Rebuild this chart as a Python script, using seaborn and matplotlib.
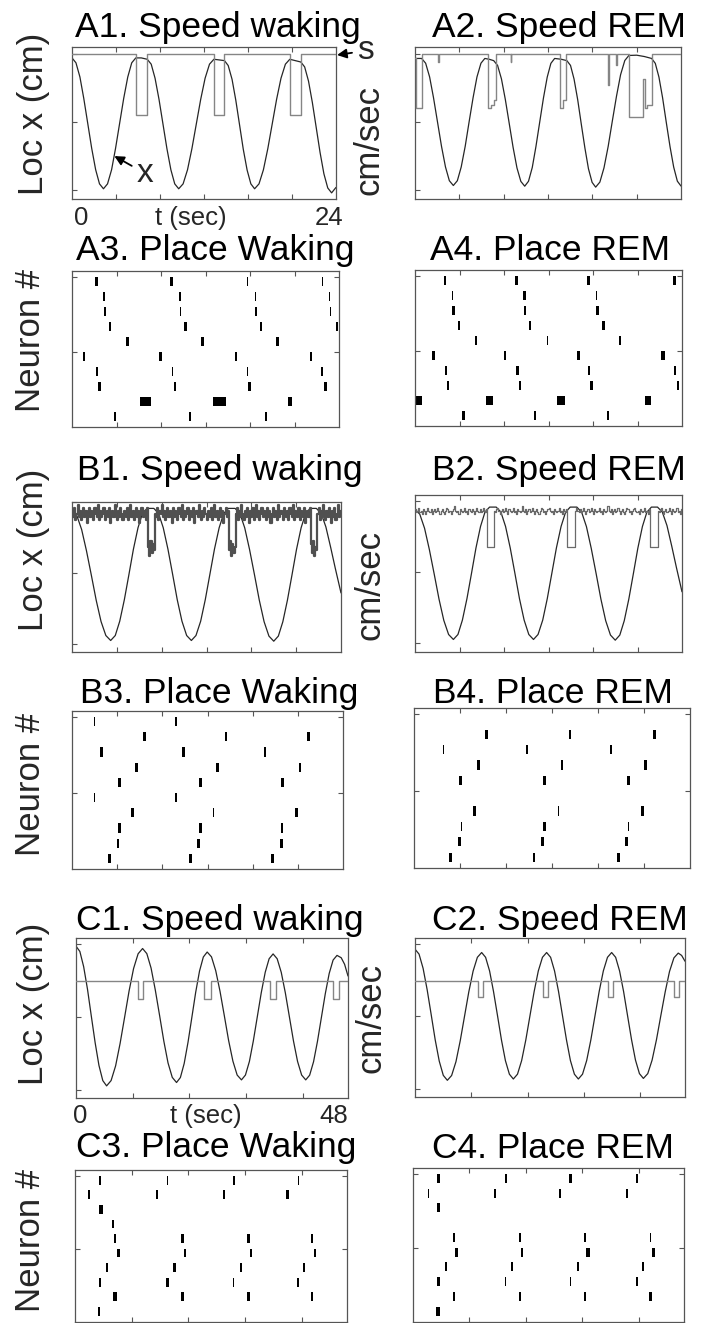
import numpy as np
import matplotlib
matplotlib.use("Agg")
import matplotlib.pyplot as plt
import seaborn as sns

# ======================= DATA =======================
# ---- A: 24 s, position x (cm) and speed s (cm/sec) ----
a1_t = [0, 0.36, 0.72, 1.07, 1.43, 1.79, 2.15, 2.50, 2.86,
        3.23, 3.60, 3.96, 4.33, 4.70, 5.07, 5.43, 5.80,
        6.30, 6.84,
        7.20, 7.55, 7.91, 8.27, 8.63, 8.99, 9.34, 9.70,
        10.1, 10.5, 10.9, 11.3, 11.7, 12.1, 12.5, 12.9,
        13.4, 13.86,
        14.20, 14.55, 14.89, 15.23, 15.57, 15.92, 16.26, 16.6,
        17.0, 17.4, 17.8, 18.2, 18.6, 19.0, 19.4, 19.8,
        20.3, 20.8,
        21.15, 21.5, 21.85, 22.2, 22.55, 22.9, 23.25, 23.6, 24.0]
a1_x = [97, 93.4, 83.0, 67.3, 49.0, 30.7, 15.0, 4.6, 1.0,
        4.6, 15.0, 30.7, 49.0, 67.3, 83.0, 93.4, 97.0,
        97.0, 96.0,
        92.4, 82.1, 66.6, 48.5, 30.4, 14.9, 4.6, 1.0,
        4.6, 14.9, 30.4, 48.5, 66.6, 82.1, 92.4, 96.0,
        95.5, 95.0,
        91.4, 81.3, 66.0, 48.0, 30.0, 14.7, 4.6, 1.0,
        4.6, 14.9, 30.4, 48.5, 66.6, 82.1, 92.4, 96.0,
        95.0, 94.0,
        90.4, 80.0, 64.3, 46.0, 27.7, 12.0, 1.6, -2.0, 2.0]
a1_speed_t = [0, 5.78, 5.78, 6.84, 6.84, 12.9, 12.9, 13.86, 13.86, 19.8, 19.8, 20.8, 20.8, 24]
a1_speed = [47.8, 47.8, 27.6, 27.6, 47.8, 47.8, 27.6, 27.6, 47.8, 47.8, 27.6, 27.6, 47.8, 47.8]

a2_t = [0, 0.6,
        0.96, 1.32, 1.67, 2.03, 2.39, 2.75, 3.10, 3.46,
        3.82, 4.17, 4.53, 4.88, 5.24, 5.59, 5.95, 6.30,
        6.70, 7.10,
        7.45, 7.80, 8.15, 8.50, 8.85, 9.20, 9.55, 9.90,
        10.24, 10.58, 10.91, 11.25, 11.59, 11.93, 12.26, 12.60,
        13.2, 13.7,
        14.03, 14.35, 14.68, 15.0, 15.33, 15.65, 15.98, 16.3,
        16.68, 17.05, 17.43, 17.8, 18.18, 18.55, 18.93, 19.3,
        20.0, 20.7, 21.35,
        21.68, 22.01, 22.34, 22.67, 23.01, 23.34, 23.67, 24.0]
a2_x = [96.6, 96.6,
        93.1, 83.0, 67.8, 50.0, 32.2, 17.0, 6.9, 3.4,
        6.9, 17.0, 32.2, 50.0, 67.8, 83.0, 93.1, 96.6,
        96.0, 95.0,
        91.5, 81.6, 66.5, 49.0, 31.4, 16.3, 6.4, 2.9,
        6.5, 16.6, 31.9, 49.8, 67.6, 82.9, 93.0, 96.6,
        96.0, 95.0,
        91.5, 81.5, 66.3, 48.6, 30.9, 15.7, 5.7, 2.2,
        5.9, 16.3, 32.1, 50.5, 68.9, 84.7, 95.1, 98.8,
        99.0, 98.0, 96.6,
        93.0, 82.9, 67.7, 49.8, 31.9, 16.9, 6.6, 3.0]
a2_speed_t = [0, 0.08, 0.08, 0.6, 0.6, 2.08, 2.08, 2.14, 2.14, 6.6, 6.6, 6.9, 6.9, 7.1, 7.1,
              7.28, 7.28, 8.63, 8.63, 8.7, 8.7, 13.08, 13.08, 13.35, 13.35, 13.6, 13.6,
              17.42, 17.42, 17.47, 17.47, 18.18, 18.18, 18.24, 18.24, 19.3, 19.3, 20.55,
              20.55, 20.75, 20.75, 20.9, 20.9, 21.35, 21.35, 24]
a2_speed = [46.5, 46.5, 29.8, 29.8, 47.8, 47.8, 45, 45, 47.8, 47.8, 29.8, 29.8, 31, 31, 32.5,
            32.5, 47.8, 47.8, 45, 45, 47.8, 47.8, 29.8, 29.8, 32.5, 32.5, 47.8,
            47.8, 37.5, 37.5, 47.8, 47.8, 44, 44, 47.8, 47.8, 27, 27,
            39.5, 39.5, 29.8, 29.8, 31, 31, 47.8, 47.8]

# ---- B: 24 s, same trajectory in waking and REM ----
b_t = [0, 0.43, 0.86, 1.29, 1.73, 2.16, 2.59, 3.02, 3.45,
       3.86, 4.26, 4.67, 5.08, 5.48, 5.89, 6.29, 6.70,
       7.30,
       7.72, 8.14, 8.56, 8.98, 9.39, 9.81, 10.23, 10.65,
       11.06, 11.48, 11.89, 12.30, 12.71, 13.13, 13.54, 13.95,
       14.55,
       14.98, 15.41, 15.84, 16.28, 16.71, 17.14, 17.57, 18.0,
       18.41, 18.81, 19.22, 19.63, 20.03, 20.44, 20.84, 21.25,
       21.80,
       22.23, 22.65, 23.08, 23.50, 24.0]
b_x = [94, 90.5, 80.6, 65.7, 48.3, 30.8, 15.9, 6.0, 2.5,
       6.0, 16.1, 31.2, 49.0, 66.8, 81.9, 92.0, 95.5,
       95.5,
       92.0, 81.9, 66.8, 49.0, 31.2, 16.1, 6.0, 2.5,
       6.0, 16.1, 31.2, 49.0, 66.8, 81.9, 92.0, 95.5,
       95.5,
       91.9, 81.8, 66.6, 48.8, 30.9, 15.7, 5.6, 2.0,
       5.6, 15.7, 30.9, 48.8, 66.6, 81.8, 91.9, 95.5,
       95.5,
       92.0, 82.5, 68.0, 53.0, 36.0]
# speed sampled every 0.1 s
b1_speed = [
    47, 45, 48, 44, 46, 49, 45, 47, 44, 46, 48, 45, 47, 43, 46, 48, 45, 47, 46, 44,
    48, 46, 45, 49, 44, 47, 45, 46, 48, 44, 46, 47, 45, 48, 43, 46, 47, 45, 49, 46,
    44, 47, 45, 48, 46, 44, 47, 46, 45, 48, 44, 46, 49, 45, 47, 44, 46, 48, 45, 47,
    43, 46, 48, 45, 47, 46, 44, 48,
    35, 32, 37, 33, 36, 34,
    46, 45, 48, 44, 47, 46, 49, 45, 47, 44, 46, 48, 45, 47, 46, 43, 48, 45, 47, 46,
    44, 48, 46, 45, 49, 44, 47, 45, 46, 48, 44, 47, 46, 45, 48, 43, 46, 47, 45, 49,
    46, 44, 47, 45, 48, 46, 44, 47, 46, 45, 48, 44, 46, 49, 45, 47, 44, 46, 48, 45,
    47, 43, 46, 48, 45, 47,
    34, 37, 32, 36, 33, 35,
    46, 48, 44, 47, 45, 49, 46, 44, 47, 45, 48, 46, 43, 47, 45, 48, 44, 46, 49, 45,
    47, 44, 46, 48, 45, 47, 46, 44, 48, 45, 47, 43, 46, 48, 45, 47, 46, 44, 49, 45,
    47, 46, 44, 48, 46, 45, 47, 44, 48, 46, 45, 49, 44, 47, 46, 45, 48, 44, 47, 46,
    45, 48, 43, 46, 47, 45, 48,
    36, 33, 37, 32, 35, 34,
    46, 48, 44, 47, 45, 49, 46, 44, 47, 45, 48, 46, 43, 47, 45, 48, 44, 46, 49, 45, 47]
b2_speed = [
    45.5, 44.5, 45, 46, 44.5, 45, 44, 45.5, 45, 44, 45, 46, 45, 44.5, 45.5, 44, 45, 45.5, 44.5, 45,
    46, 45, 44, 45, 45.5, 44.5, 44, 45, 46, 45.5, 44.5, 45, 44, 45, 45.5, 46.5, 45, 44.5, 45, 44,
    45.5, 45, 44.5, 45, 46, 44.5, 45, 44, 45.5, 45, 44.5, 45.5, 45, 44, 45, 46, 45, 44.5, 45.5, 44.5,
    45, 46, 45, 44.5, 45.5,
    33.3, 33.3, 33.3, 33.3, 33.3, 33.3,
    45, 44.5, 45.5, 46, 45, 44, 45, 45.5, 44.5, 45, 46, 45, 44, 45.5, 45, 44.5, 45, 46, 44.5, 45,
    44, 45.5, 45, 44.5, 45, 46.5, 45, 44.5, 45.5, 44, 45, 45.5, 44.5, 45, 46, 45, 44, 45, 45.5, 44.5,
    44, 45, 46, 45.5, 44.5, 45, 44, 45, 45.5, 46, 45, 44.5, 45, 44, 45.5, 45, 44.5, 45, 46, 44.5,
    45, 44, 45.5, 45, 44.5, 45.5,
    33.3, 33.3, 33.3, 33.3, 33.3, 33.3, 33.3,
    45, 46, 45, 44.5, 45.5, 44.5, 45, 46, 45, 44, 45, 45.5, 44.5, 45, 46, 45, 44, 45.5, 45, 44.5,
    45, 46, 44.5, 45, 44, 45.5, 45, 44.5, 45, 46.5, 45, 44.5, 45.5, 44, 45, 45.5, 44.5, 45, 46, 45,
    44, 45, 45.5, 44.5, 44, 45, 46, 45.5, 44.5, 45, 44, 45, 45.5, 46, 45, 44.5, 45, 44, 45.5, 45,
    44.5, 45, 46, 44.5, 45, 44, 45.5,
    33.3, 33.3, 33.3, 33.3, 33.3, 33.3, 33.3,
    45, 44.5, 45.5, 46, 45, 44, 45, 45.5, 44.5, 45, 46, 45, 44, 45.5, 45, 44.5, 45, 46, 44.5, 45, 44, 45.5]

# ---- C: 48 s ----
c1_t = [0, 0.68, 1.35, 2.03, 2.70, 3.38, 4.05, 4.73, 5.40,
        6.19, 6.99, 7.78, 8.58, 9.37, 10.16, 10.96, 11.75,
        12.50, 13.25, 13.99, 14.75, 15.50, 16.24, 16.99, 17.74,
        18.42, 19.09, 19.77, 20.45, 21.12, 21.80, 22.47, 23.15,
        23.91, 24.66, 25.42, 26.18, 26.93, 27.69, 28.44, 29.20,
        29.90, 30.60, 31.29, 31.99, 32.69, 33.39, 34.08, 34.78,
        35.50, 36.22, 36.94, 37.66, 38.38, 39.10, 39.82, 40.54,
        41.23, 41.92, 42.61, 43.30, 43.99, 44.68, 45.37, 46.06,
        46.80, 47.40, 48.0]
c1_x = [98.4, 94.8, 84.4, 68.9, 50.6, 32.3, 16.8, 6.4, 2.8,
        6.4, 16.5, 31.8, 49.8, 67.8, 83.1, 93.2, 96.8,
        93.3, 83.4, 68.5, 51.0, 33.4, 18.5, 8.6, 5.1,
        8.5, 18.1, 32.7, 49.8, 66.8, 81.4, 91.0, 94.4,
        91.1, 81.6, 67.4, 50.7, 33.9, 19.7, 10.2, 6.9,
        10.2, 19.5, 33.5, 50.0, 66.5, 80.5, 89.8, 93.1,
        89.8, 80.5, 66.5, 50.0, 33.5, 19.5, 10.2, 6.9,
        10.1, 19.3, 33.2, 49.5, 65.8, 79.7, 88.9, 92.1,
        90.5, 86.0, 78.0]
c1_speed_t = [0, 10.99, 10.99, 11.87, 11.87, 22.62, 22.62, 23.74, 23.74, 34.2, 34.2,
              35.25, 35.25, 45.36, 45.36, 46.36, 46.36, 48]
c1_speed = [36.5, 36.5, 31, 31, 36.5, 36.5, 31, 31, 36.5, 36.5, 31, 31, 36.5, 36.5, 31, 31, 36.5, 36.5]

c2_t = [0, 0.72, 1.44, 2.16, 2.88, 3.59, 4.31, 5.03, 5.75,
        6.51, 7.28, 8.04, 8.80, 9.56, 10.33, 11.09, 11.85,
        12.55, 13.26, 13.96, 14.67, 15.37, 16.07, 16.78, 17.48,
        18.22, 18.96, 19.70, 20.44, 21.18, 21.92, 22.66, 23.40,
        24.11, 24.81, 25.52, 26.22, 26.93, 27.63, 28.34, 29.04,
        29.78, 30.52, 31.26, 32.00, 32.74, 33.48, 34.22, 34.96,
        35.67, 36.37, 37.08, 37.78, 38.49, 39.19, 39.90, 40.60,
        41.38, 42.15, 42.93, 43.70, 44.48, 45.25, 46.03, 46.80,
        47.40, 48.0]
c2_x = [96.3, 92.9, 83.1, 68.4, 51.2, 33.9, 19.2, 9.4, 6.0,
        9.3, 18.8, 33.2, 50.0, 66.8, 81.2, 90.7, 94.0,
        90.7, 81.3, 67.1, 50.5, 33.8, 19.6, 10.2, 6.9,
        10.2, 19.6, 33.8, 50.5, 67.1, 81.3, 90.7, 94.0,
        90.7, 81.3, 67.1, 50.5, 33.8, 19.6, 10.2, 6.9,
        10.2, 19.6, 33.8, 50.5, 67.1, 81.3, 90.7, 94.0,
        90.7, 81.3, 67.2, 50.7, 34.1, 20.0, 10.6, 7.3,
        10.6, 19.9, 34.0, 50.5, 66.9, 81.0, 90.3, 93.6,
        92.0, 88.0]
c2_speed_t = [0, 11.14, 11.14, 12.03, 12.03, 22.8, 22.8, 23.6, 23.6, 34.37, 34.37,
              35.26, 35.26, 46.04, 46.04, 46.93, 46.93, 48]
c2_speed = [36.4, 36.4, 31.4, 31.4, 36.4, 36.4, 31.4, 31.4, 36.4, 36.4, 31.4, 31.4, 36.4, 36.4, 31.4, 31.4, 36.4, 36.4]

# ---- spike rasters: neuron row, spike centre time (s), spike duration (s) ----
a3_rows = [10, 10, 10, 10, 9, 9, 9, 9, 8, 8, 8, 8, 7, 7, 7, 7, 6, 6, 6, 5, 5, 5, 5,
           4, 4, 4, 4, 3, 3, 3, 3, 2, 2, 2, 2, 1, 1, 1]
a3_times = [2.22, 8.95, 15.75, 22.5, 2.87, 9.7, 16.5, 23.17, 2.96, 9.76, 16.53, 23.26,
            3.41, 10.21, 16.98, 23.83, 4.97, 11.74, 18.47, 1.08, 7.96, 14.73, 21.47,
            2.22, 9.01, 15.75, 22.5, 2.46, 9.25, 15.99, 22.78, 0.06, 6.59, 13.26, 19.58,
            3.86, 10.6, 17.43]
a3_widths = [.25, .25, .12, .12, .12, .12, .12, .1, .25, .12, .12, .12, .22, .22, .18, .22,
             .22, .22, .22, .22, .22, .22, .22, .18, .12, .12, .15, .22, .22, .25, .25,
             .12, .96, 1.14, .35, .22, .22, .25]

a4_rows = [10, 10, 10, 10, 9, 9, 9, 8, 8, 8, 7, 7, 7, 6, 6, 6, 5, 5, 5, 5,
           4, 4, 4, 4, 3, 3, 3, 3, 2, 2, 2, 2, 1, 1, 1]
a4_times = [2.7, 9.09, 15.6, 23.31, 3.39, 9.84, 16.35, 3.48, 9.9, 16.41, 3.96, 10.35, 16.95,
            5.49, 11.94, 18.45, 1.65, 8.1, 14.7, 22.29, 2.79, 9.21, 15.66, 23.4,
            2.94, 9.45, 15.9, 23.61, 0.35, 6.72, 13.15, 20.94, 4.35, 10.8, 17.34]
a4_widths = [.25, .25, .25, .25, .1, .2, .1, .22, .18, .22, .1, .22, .22, .22, .1, .22,
             .3, .2, .22, .3, .2, .2, .2, .18, .2, .22, .25, .2, .51, .66, .69, .6, .25, .22, .22]

b3_rows = [10, 10, 9, 9, 9, 8, 8, 8, 7, 7, 7, 6, 6, 6, 5, 5, 4, 4, 4, 3, 3, 3, 2, 2, 2, 1, 1, 1]
b3_times = [2.0, 9.23, 6.43, 13.66, 20.91, 2.62, 9.88, 17.11, 5.69, 12.89, 20.18,
            4.22, 11.39, 18.62, 2.0, 9.23, 5.34, 12.54, 19.88, 4.22, 11.39, 18.62,
            4.07, 11.21, 18.53, 3.33, 10.5, 17.79]
b3_widths = [.1, .2, .25, .22, .25, .22, .22, .22, .3, .3, .22, .25, .25, .25, .1, .2,
             .22, .1, .25, .25, .25, .22, .25, .25, .25, .3, .3, .25]

b4_rows = [9, 9, 9, 8, 8, 8, 7, 7, 7, 6, 6, 6, 4, 4, 4, 3, 3, 3, 2, 2, 2, 1, 1, 1]
b4_times = [6.3, 13.55, 20.89, 2.58, 9.84, 17.09, 5.63, 12.85, 20.11, 4.06, 11.37, 18.63,
            5.28, 12.54, 19.88, 4.12, 11.37, 18.68, 3.92, 11.17, 18.49, 3.16, 10.44, 17.76]
b4_widths = [.22, .12, .25, .12, .22, .18, .25, .22, .25, .22, .22, .22,
             .25, .1, .22, .1, .22, .1, .25, .25, .25, .25, .25, .25]

c3_rows = [10, 10, 10, 10, 9, 9, 9, 9, 8, 7, 6, 6, 6, 6, 5, 5, 5, 5, 4, 4, 4, 4,
           3, 3, 3, 3, 2, 2, 2, 2, 1]
c3_times = [4.42, 16.31, 28.09, 39.46, 2.53, 14.43, 26.33, 37.52, 4.59, 6.66,
            7.07, 18.97, 30.62, 41.81, 7.66, 19.44, 31.04, 42.4, 5.71, 17.55, 29.27, 40.46,
            4.42, 16.31, 27.97, 39.34, 7.07, 18.97, 30.62, 41.81, 4.24]
c3_widths = [.3, .3, .4, .3, .35, .4, .4, .4, .55, .4, .3, .4, .4, .25, .55, .45, .45, .4,
             .4, .4, .3, .4, .3, .4, .25, .35, .7, .4, .4, .25, .5]

c4_rows = [10, 10, 10, 10, 9, 9, 9, 9, 8, 6, 6, 6, 6, 5, 5, 5, 5, 4, 4, 4, 4,
           3, 3, 3, 3, 2, 2, 2, 2, 1]
c4_times = [4.55, 16.53, 27.92, 39.67, 2.77, 14.58, 26.09, 37.9, 4.55,
            7.2, 19.0, 30.51, 42.08, 7.67, 19.3, 30.99, 42.56, 5.9, 17.59, 29.22, 40.73,
            4.55, 16.41, 27.86, 39.67, 7.2, 19.0, 30.51, 42.08, 4.43]
c4_widths = [.45, .4, .45, .4, .25, .4, .4, .4, .45, .4, .4, .4, .3, .55, .4, .55, .45,
             .3, .3, .4, .4, .45, .2, .25, .3, .4, .4, .4, .45, .6]

titles = ["A1. Speed waking", "A2. Speed REM", "A3. Place Waking", "A4. Place REM",
          "B1. Speed waking", "B2. Speed REM", "B3. Place Waking", "B4. Place REM",
          "C1. Speed waking", "C2. Speed REM", "C3. Place Waking", "C4. Place REM"]

# ======================= FIGURE =======================
sns.set_theme(style="white")
plt.rcParams['font.family'] = ['Liberation Sans', 'DejaVu Sans']

W, H = 701, 1323
fig = plt.figure(figsize=(W / 100, H / 100), dpi=100)

EDGE = '#555555'
LOC = '#262626'
SPD = '#858585'


def box(l, t, r, b):
    return [l / W, 1 - b / H, (r - l) / W, (b - t) / H]


def style(ax, xmax, xticks, ylim, yticks):
    ax.set_xlim(0, xmax)
    ax.set_ylim(*ylim)
    ax.set_xticks(xticks)
    ax.set_yticks(yticks)
    ax.tick_params(direction='in', length=3.5, width=0.8, color=EDGE,
                   top=True, right=True, bottom=True, left=True,
                   labelbottom=False, labelleft=False)
    for s in ax.spines.values():
        s.set_visible(True)
        s.set_color(EDGE)
        s.set_linewidth(0.9)
    ax.set_xlabel('')
    ax.set_ylabel('')
    ax.grid(False)


def speed_panel(rect, xmax, xticks, ylim, lt, lx, st, sv, color=SPD, lw=1.0, steps=False):
    ax = fig.add_axes(box(*rect))
    sns.lineplot(x=lt, y=lx, ax=ax, color=LOC, lw=0.9, estimator=None, sort=False)
    style(ax, xmax, xticks, ylim, [0, 50, 100])
    ax2 = ax.twinx()
    kw = dict(drawstyle='steps-post') if steps else {}
    sns.lineplot(x=st, y=sv, ax=ax2, color=color, lw=lw, estimator=None, sort=False, **kw)
    ax2.set_ylim(0, 50)
    ax2.set_xlim(0, xmax)
    ax2.set_yticks([])
    ax2.set_ylabel('')
    ax2.set_xlabel('')
    for s in ax2.spines.values():
        s.set_visible(False)
    return ax, ax2


SPIKE_H = 0.6


def raster_panel(rect, xmax, xticks, rows, times, widths):
    ax = fig.add_axes(box(*rect))
    rows = np.asarray(rows, float)
    ax.bar(times, SPIKE_H, width=widths, bottom=rows - SPIKE_H, color='black',
           linewidth=0, align='center')
    style(ax, xmax, xticks, (0, 10.4), [5, 10])
    return ax


tA = [4, 8, 12, 16, 20]
tC = [10, 20, 30, 40]

axA1, axA1s = speed_panel((72, 47, 336, 199), 24, tA, (-6.5, 105), a1_t, a1_x, a1_speed_t, a1_speed)
speed_panel((415, 47, 681, 199), 24, tA, (-6.5, 105), a2_t, a2_x, a2_speed_t, a2_speed)
raster_panel((72, 271, 339, 427), 24, tA, a3_rows, a3_times, a3_widths)
raster_panel((415, 270, 682, 426), 24, tA, a4_rows, a4_times, a4_widths)

bt_grid = list(np.arange(len(b1_speed) + 1) * 0.1)
speed_panel((72, 502, 341, 652), 24, tA, (-5.6, 99.5), b_t, b_x, bt_grid,
            b1_speed + [b1_speed[-1]], color='#505050', lw=1.6, steps=True)
bt_grid2 = list(np.arange(len(b2_speed) + 1) * 0.1)
speed_panel((415, 495, 682, 652), 24, tA, (-6.3, 104), b_t, b_x, bt_grid2,
            b2_speed + [b2_speed[-1]], color='#6a6a6a', lw=0.9, steps=True)
raster_panel((72, 711, 343, 869), 24, tA, b3_rows, b3_times, b3_widths)
raster_panel((414, 708, 690, 868), 24, tA, b4_rows, b4_times, b4_widths)

speed_panel((76, 938, 348, 1098), 48, tC, (-5.5, 104), c1_t, c1_x, c1_speed_t, c1_speed)
speed_panel((415, 938, 685, 1097), 48, tC, (-5.5, 104), c2_t, c2_x, c2_speed_t, c2_speed)
raster_panel((75, 1170, 347, 1321.5), 48, tC, c3_rows, c3_times, c3_widths)
raster_panel((413, 1168, 684, 1321.5), 48, tC, c4_rows, c4_times, c4_widths)


def ftext(x, y, s, **kw):
    return fig.text(x / W, 1 - y / H, s, **kw)


# titles (left x, baseline y in pixels)
title_pos = [(75, 37), (432, 37), (76, 260), (430, 260),
             (77, 480), (432, 480), (80, 703), (433, 703),
             (76, 930), (432, 930), (76, 1157), (432, 1158)]
for s, (x, y) in zip(titles, title_pos):
    ftext(x, y, s, fontsize=25.5, ha='left', va='baseline', color='black')

# rotated axis labels
for y in (114, 550, 1004):
    ftext(33, y, "Loc x (cm)", fontsize=25, rotation=90, ha='center', va='center')
for y in (340, 784, 1241):
    ftext(30, y, "Neuron #", fontsize=25, rotation=90, ha='center', va='center')
for x, y in ((369, 140), (370, 585), (371, 1018)):
    ftext(x, y, "cm/sec", fontsize=25, rotation=90, ha='center', va='center')

# time labels
for (x0, xm, x1, base, end) in ((81, 191, 329, 225, "24"), (80, 206, 334, 1123, "48")):
    ftext(x0, base, "0", fontsize=18.5, ha='center', va='baseline')
    ftext(xm, base, "t (sec)", fontsize=18.5, ha='center', va='baseline')
    ftext(x1, base, end, fontsize=18.5, ha='center', va='baseline')

# arrows in A1
axA1.annotate("x", xy=(3.85, 25), xytext=(6.6, 12.5), textcoords='data',
              fontsize=24, ha='center', va='center',
              arrowprops=dict(arrowstyle='-|>', color='black', lw=1.3,
                              mutation_scale=14, shrinkA=1, shrinkB=0))
axA1s.annotate("s", xy=(1.004, 0.947), xycoords='axes fraction',
               xytext=(1.11, 0.975), textcoords='axes fraction',
               fontsize=24, ha='center', va='center', annotation_clip=False,
               arrowprops=dict(arrowstyle='-|>', color='black', lw=1.3,
                               mutation_scale=14, shrinkA=1, shrinkB=0))

fig.savefig("out.png", dpi=100)
